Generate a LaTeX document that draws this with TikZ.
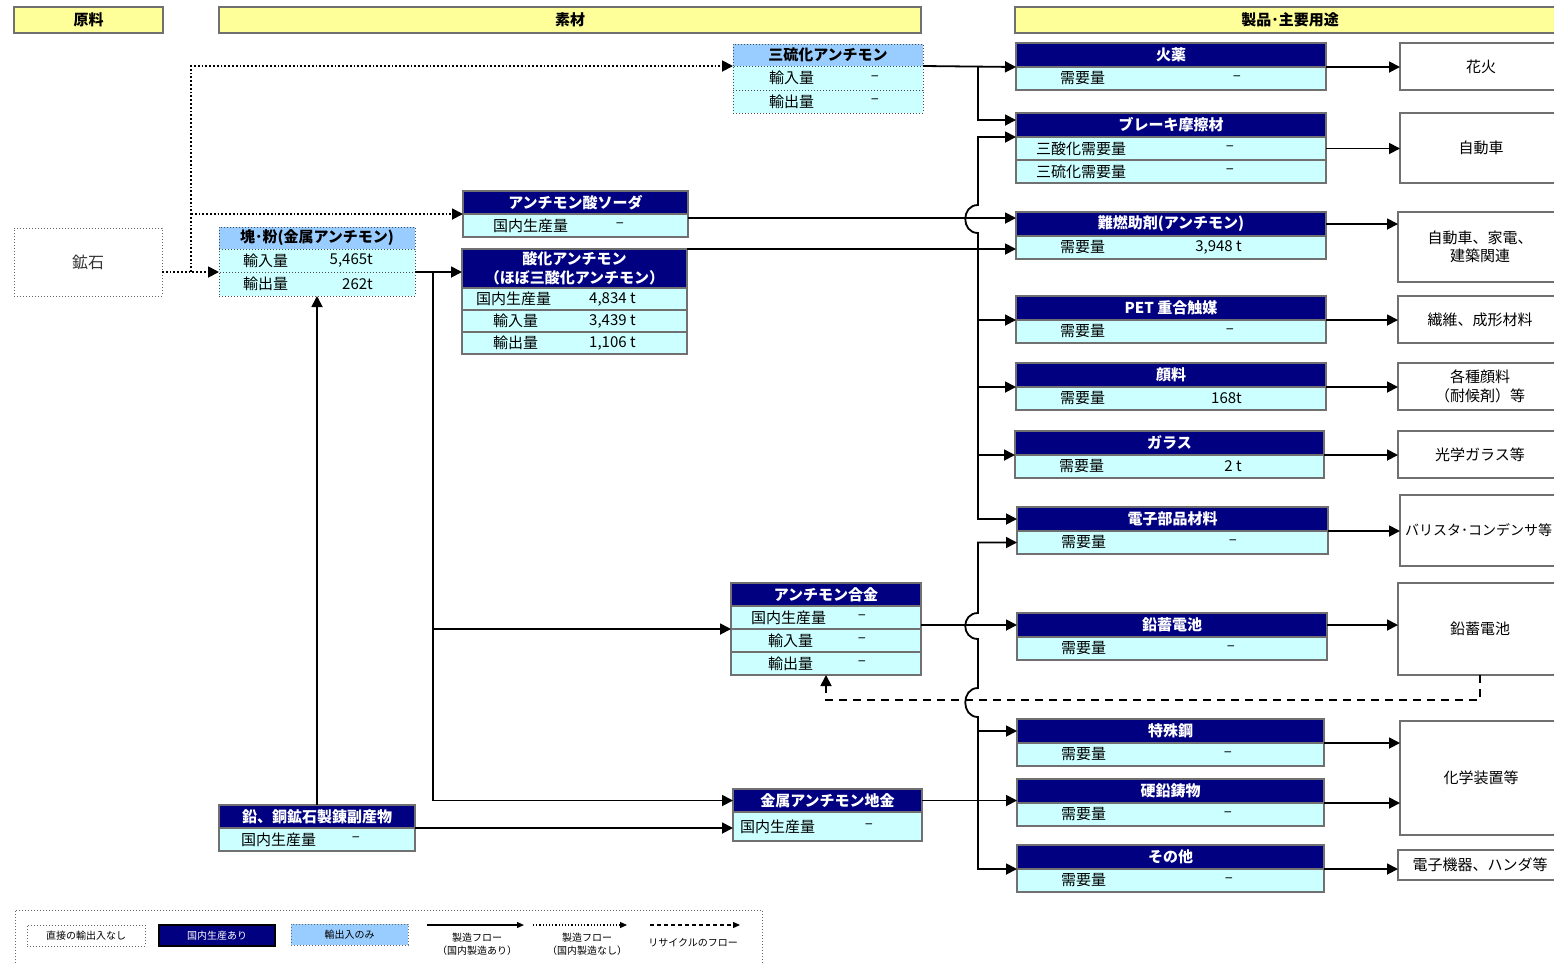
\documentclass[tikz,border=0pt]{standalone}
\usepackage{fontspec}
\setmainfont{Noto Sans CJK JP}
\usetikzlibrary{arrows.meta,fit}
\definecolor{navy}{HTML}{000080}
\definecolor{cy}{HTML}{CCFFFF}
\definecolor{lb}{HTML}{99CCFF}
\definecolor{yl}{HTML}{FFFF99}
\definecolor{bd}{HTML}{707070}
% box with centred text: name, box style, x1, y1, x2, y2, text style, text
\newcommand\boxt[8]{%
  \node[#2, fit={(#3,#4) (#5,#6)}] (#1) {};
  \node[#7] (#1-t) at (#1.center) {#8};
}
% product box: name, x1, x2, ytop, title
\newcommand\pbox[5]{%
  \boxt{#1h}{hdr}{#2}{#4}{#3}{#4+24}{htxt}{#5}
  \node[rw, fit={(#2,{#4+24}) (#3,{#4+47})}] (#1r) {};
  \node[lbl, anchor=west] (#1l) at ({#2+44},{#4+35.5}) {需要量};
}
\begin{document}
\begin{tikzpicture}[x=1pt,y=-1pt,
  cell/.style={inner sep=0pt,outer sep=0pt,draw=bd,line width=1.2pt},
  hdr/.style={cell,fill=navy},
  rw/.style={cell,fill=cy},
  ihdr/.style={inner sep=0pt,outer sep=0pt,draw=black!70,dotted,line width=1pt,fill=lb},
  irw/.style={inner sep=0pt,outer sep=0pt,draw=black!70,dotted,line width=1pt,fill=cy},
  orebox/.style={inner sep=0pt,outer sep=0pt,draw=black!60,dotted,line width=1pt,fill=white},
  ubox/.style={cell,fill=white},
  ybar/.style={cell,fill=yl},
  htxt/.style={inner sep=0pt,text=white,font=\fontsize{15}{19}\selectfont\bfseries,align=center},
  btxt/.style={inner sep=0pt,font=\fontsize{15}{18}\selectfont\bfseries},
  utxt/.style={inner sep=0pt,font=\fontsize{15}{18.5}\selectfont,align=center},
  oretxt/.style={inner sep=0pt,font=\fontsize{16}{19}\selectfont,text=black!80},
  lbl/.style={inner sep=0pt,font=\fontsize{15}{18}\selectfont},
  conn/.style={line width=1.8pt},
  flow/.style={conn,-{Triangle[length=11pt,width=11pt]}},
  dflow/.style={flow,dotted},
  rflow/.style={flow,dash pattern=on 8pt off 6pt},
  legbox/.style={inner sep=0pt,outer sep=0pt,draw=black!60,dotted,line width=1pt},
  legnavy/.style={inner sep=0pt,outer sep=0pt,draw=black,line width=1.2pt,fill=navy},
  legtxt/.style={inner sep=0pt,font=\fontsize{10}{13}\selectfont,align=center},
  legwtxt/.style={legtxt,text=white},
  lflow/.style={line width=1.2pt,-{Triangle[length=7pt,width=6pt]}},
]
\useasboundingbox[fill=white] (0,0) rectangle (1554,962);

% ---------- section headers ----------
\boxt{hGen}{ybar}{14}{7}{163}{33}{btxt}{原料}
\boxt{hSozai}{ybar}{219}{7}{921}{33}{btxt}{素材}
\boxt{hSeihin}{ybar}{1015}{7}{1565}{33}{btxt}{製品･主要用途}

% ---------- raw material ----------
\boxt{ore}{orebox}{14}{228}{162}{296}{oretxt}{鉱石}

% ---------- materials ----------
\boxt{kaih}{ihdr}{219}{227}{415}{249}{btxt}{塊･粉(金属アンチモン)}
\node[irw, fit={(219,249) (415,272)}] (kair1) {};
\node[irw, fit={(219,272) (415,296)}] (kair2) {};
\node[lbl,anchor=west] (kail1) at (243,260.5) {輸入量};
\node[lbl,anchor=east] (kaiv1) at (373,260.5) {5,465t};
\node[lbl,anchor=west] (kail2) at (243,284) {輸出量};
\node[lbl,anchor=east] (kaiv2) at (373,284) {262t};

\boxt{sanryuh}{ihdr}{733}{44}{923}{66}{btxt}{三硫化アンチモン}
\node[irw, fit={(733,66) (923,90)}] (sanryur1) {};
\node[irw, fit={(733,90) (923,113)}] (sanryur2) {};
\node[lbl,anchor=west] (sanryul1) at (769,78) {輸入量};
\node[lbl] (sanryuv1) at (875,78) {–};
\node[lbl,anchor=west] (sanryul2) at (769,101.5) {輸出量};
\node[lbl] (sanryuv2) at (875,101.5) {–};

\boxt{sodah}{hdr}{463}{191}{688}{214}{htxt}{アンチモン酸ソーダ}
\node[rw, fit={(463,214) (688,237)}] (sodar) {};
\node[lbl,anchor=west] (sodal) at (493,225.5) {国内生産量};
\node[lbl] (sodav) at (620,225.5) {–};

\boxt{sankah}{hdr}{462}{249}{687}{288}{htxt}{酸化アンチモン\\（ほぼ三酸化アンチモン）}
\node[rw, fit={(462,288) (687,310)}] (sankar1) {};
\node[rw, fit={(462,310) (687,332)}] (sankar2) {};
\node[rw, fit={(462,332) (687,354)}] (sankar3) {};
\node[lbl,anchor=west] (sankal1) at (476,299) {国内生産量};
\node[lbl,anchor=west] (sankav1) at (589,299) {4,834 t};
\node[lbl,anchor=west] (sankal2) at (493,321) {輸入量};
\node[lbl,anchor=west] (sankav2) at (589,321) {3,439 t};
\node[lbl,anchor=west] (sankal3) at (493,343) {輸出量};
\node[lbl,anchor=west] (sankav3) at (589,343) {1,106 t};

\boxt{gokinh}{hdr}{731}{583}{921}{606}{htxt}{アンチモン合金}
\node[rw, fit={(731,606) (921,629)}] (gokinr1) {};
\node[rw, fit={(731,629) (921,652)}] (gokinr2) {};
\node[rw, fit={(731,652) (921,675)}] (gokinr3) {};
\node[lbl,anchor=west] (gokinl1) at (751,617.5) {国内生産量};
\node[lbl] (gokinv1) at (862,617.5) {–};
\node[lbl,anchor=west] (gokinl2) at (768,640.5) {輸入量};
\node[lbl] (gokinv2) at (862,640.5) {–};
\node[lbl,anchor=west] (gokinl3) at (768,663.5) {輸出量};
\node[lbl] (gokinv3) at (862,663.5) {–};

\boxt{jiganeh}{hdr}{733}{789}{922}{812}{htxt}{金属アンチモン地金}
\node[rw, fit={(733,812) (922,841)}] (jiganer) {};
\node[lbl,anchor=west] (jiganel) at (740,826.5) {国内生産量};
\node[lbl] (jiganev) at (869,826.5) {–};

\boxt{namarih}{hdr}{219}{805}{415}{828}{htxt}{鉛、銅鉱石製錬副産物}
\node[rw, fit={(219,828) (415,851)}] (namarir) {};
\node[lbl,anchor=west] (namaril) at (241,839.5) {国内生産量};
\node[lbl] (namariv) at (356,839.5) {–};

% ---------- products ----------
\pbox{kayaku}{1016}{1326}{43}{火薬}
\node[lbl] (kayakuv) at (1237,78.5) {–};

\boxt{brakeh}{hdr}{1016}{113}{1326}{137}{htxt}{ブレーキ摩擦材}
\node[rw, fit={(1016,137) (1326,160)}] (braker1) {};
\node[rw, fit={(1016,160) (1326,183)}] (braker2) {};
\node[lbl,anchor=west] (brakel1) at (1036,148.5) {三酸化需要量};
\node[lbl] (brakev1) at (1230,148.5) {–};
\node[lbl,anchor=west] (brakel2) at (1036,171.5) {三硫化需要量};
\node[lbl] (brakev2) at (1230,171.5) {–};

\pbox{nanen}{1016}{1326}{212}{難燃助剤(アンチモン)}
\node[lbl,anchor=east] (nanenv) at (1242,247.5) {3,948 t};
\pbox{pet}{1016}{1326}{296}{PET 重合触媒}
\node[lbl] (petv) at (1230,331.5) {–};
\pbox{ganryo}{1016}{1326}{363}{顔料}
\node[lbl,anchor=east] (ganryov) at (1242,398.5) {168t};
\pbox{glass}{1015}{1324}{431}{ガラス}
\node[lbl,anchor=east] (glassv) at (1242,466.5) {2 t};
\pbox{denshi}{1017}{1328}{507}{電子部品材料}
\node[lbl] (denshiv) at (1233,542.5) {–};
\pbox{batt}{1017}{1327}{613}{鉛蓄電池}
\node[lbl] (battv) at (1231,648.5) {–};
\pbox{toku}{1017}{1324}{719}{特殊鋼}
\node[lbl] (tokuv) at (1228,754.5) {–};
\pbox{kouen}{1017}{1324}{779}{硬鉛鋳物}
\node[lbl] (kouenv) at (1228,814.5) {–};
\pbox{sonota}{1017}{1324}{845}{その他}
\node[lbl] (sonotav) at (1229,880.5) {–};

% ---------- uses ----------
\boxt{u1}{ubox}{1400}{43}{1562}{90}{utxt}{花火}
\boxt{u2}{ubox}{1400}{113}{1562}{183}{utxt}{自動車}
\boxt{u3}{ubox}{1398}{212}{1562}{282}{utxt}{自動車、家電、\\建築関連}
\boxt{u4}{ubox}{1398}{296}{1562}{343}{utxt}{繊維、成形材料}
\boxt{u5}{ubox}{1398}{363}{1562}{410}{utxt}{各種顔料\\（耐候剤）等}
\boxt{u6}{ubox}{1398}{431}{1562}{478}{utxt}{光学ガラス等}
\node[ubox, fit={(1400,495) (1562,566)}] (u7) {};
\node[lbl,anchor=west,font=\fontsize{14}{17}\selectfont] (u7t) at (1405,530) {バリスタ･コンデンサ等};
\boxt{u8}{ubox}{1398}{583}{1562}{675}{utxt}{鉛蓄電池}
\boxt{u9}{ubox}{1400}{721}{1562}{835}{utxt}{化学装置等}
\boxt{u10}{ubox}{1398}{850}{1562}{880}{utxt}{電子機器、ハンダ等}

% ---------- connectors: raw side ----------
\coordinate (dj) at (191,272);
\draw[dflow] (ore.east |- kair1.south) -- (kair1.south west);
\draw[dflow] (dj) |- (sanryuh.south west);
\draw[dflow] (dj |- sodah.south west) -- (sodah.south west);
\draw[flow] (kair1.south east) -- (sankah.west |- kair1.south east);
\coordinate (sp) at (433,272);
\draw[flow] (sp) |- (gokinr1.south west);
\draw[flow] (sp) |- (jiganeh.west);
\draw[flow] (namarih.north) -- (kair2.south);
\draw[flow] (namarih.south east) -- (jiganer.west |- namarih.south east);

% ---------- connectors: to products ----------
\coordinate (bt) at (978,66);
\draw[flow] (sanryuh.south east) -- (kayakuh.south west);
\coordinate (brkin) at ([yshift=5pt]brakeh.west);
\draw[flow] (bt) |- (brkin);
\coordinate (sodaout) at ([yshift=-4pt]sodar.north east);
\draw[flow] (sodaout) -- (nanenh.west |- sodaout);
\draw[flow] (sankah.north east) -- (nanenr.west |- sankah.north east);
\coordinate (bu) at (978,249);
\draw[flow] (bu) -- (978,233) .. controls (961,233) and (961,205) .. (978,205) |- (braker1.north west);
\draw[flow] (bu) |- (peth.south west);
\draw[flow] (bu) |- (ganryoh.south west);
\draw[flow] (bu) |- (glassh.south west);
\draw[flow] (bu) |- (denshih.west);
\draw[flow] (gokinr1.east |- batth.west) -- (batth.west);
\draw[flow] (jiganeh.east) -- (kouenh.west |- jiganeh.east);
\coordinate (bl) at (978,0 |- jiganeh.east);
\draw[flow] (bl) -- (978,717) .. controls (961,717) and (961,688) .. (978,688) -- (978,639) .. controls (961,639) and (961,613) .. (978,613) |- (denshir.west);
\draw[flow] (bl) |- (tokuh.west);
\draw[flow] (bl) |- (sonotah.south west);

% recycle
\coordinate (rc) at (1481,700);
\draw[rflow] (u8.south) -- (u8.south |- rc) -| (gokinr3.south);

% ---------- connectors: to uses ----------
\draw[flow] (kayakuh.south east) -- (u1.west |- kayakuh.south east);
\draw[flow] (braker1.east) -- (u2.west |- braker1.east);
\draw[flow] (nanenh.east) -- (u3.west |- nanenh.east);
\draw[flow] (peth.south east) -- (u4.west |- peth.south east);
\draw[flow] (ganryoh.south east) -- (u5.west |- ganryoh.south east);
\draw[flow] (glassh.south east) -- (u6.west |- glassh.south east);
\draw[flow] (denshih.south east) -- (u7.west |- denshih.south east);
\draw[flow] (batth.east) -- (u8.west |- batth.east);
\draw[flow] (tokuh.south east) -- (u9.west |- tokuh.south east);
\draw[flow] (kouenh.south east) -- (u9.west |- kouenh.south east);
\draw[flow] (sonotah.south east) -- (u10.west |- sonotah.south east);

% ---------- legend ----------
\node[legbox, fit={(15,910) (762,975)}] (leg) {};
\boxt{leg1}{legbox,fill=white}{27}{925}{145}{946}{legtxt}{直接の輸出入なし}
\boxt{leg2}{legnavy}{159}{925}{275}{946}{legwtxt}{国内生産あり}
\boxt{leg3}{legbox,fill=lb}{291}{924}{408}{945}{legtxt}{輸出入のみ}
\coordinate (la1) at (427,925); \coordinate (la2) at (524,925);
\draw[lflow] (la1) -- (la2);
\node[legtxt] (lt1) at (477,944) {製造フロー\\（国内製造あり）};
\coordinate (lb1) at (533,925); \coordinate (lb2) at (627,925);
\draw[lflow,dotted] (lb1) -- (lb2);
\node[legtxt] (lt2) at (587,944) {製造フロー\\（国内製造なし）};
\coordinate (lc1) at (650,925); \coordinate (lc2) at (740,925);
\draw[lflow,dash pattern=on 4pt off 3pt] (lc1) -- (lc2);
\node[legtxt] (lt3) at (693,943) {リサイクルのフロー};
\end{tikzpicture}
\end{document}
